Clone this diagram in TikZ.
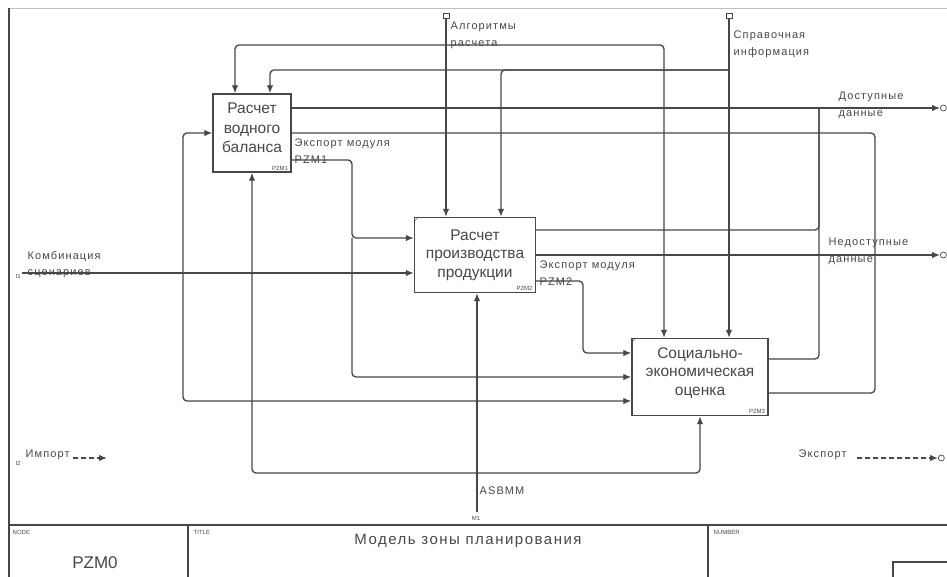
\documentclass[tikz,border=0pt]{standalone}
\usepackage{fontspec}
\setmainfont{Liberation Sans}
\newfontfamily\idef[LetterSpace=10]{Liberation Sans}
\usetikzlibrary{arrows.meta}

\begin{document}
\begin{tikzpicture}[x=1pt,y=-1pt,color=black!72,line width=1.35pt,
    func/.style={draw,line width=1.4pt,inner sep=0pt,align=center,font=\fontsize{15.5}{18.5}\selectfont},
    arr/.style={rounded corners=4pt,-{Latex[length=8pt,width=6.5pt]}},
    ln/.style={rounded corners=4pt},
    lbl/.style={font=\idef\fontsize{11}{17}\selectfont,align=left,inner sep=0pt,anchor=base west},
    tiny/.style={font=\fontsize{6}{7}\selectfont,inner sep=0pt},
    tunnel/.style={draw,line width=0.7pt,minimum width=6pt,minimum height=5pt,inner sep=0pt,anchor=south},
    ring/.style={draw,circle,line width=0.7pt,minimum size=6pt,inner sep=0pt,anchor=west}]
  \useasboundingbox (0,0) rectangle (947,577);
  % frame and footer
  \draw[black!25,line width=0.8pt] (9,8) -- (947,8);
  \draw[line width=1.4pt] (9,8) -- (9,577);
  \draw[line width=1.4pt] (9,525) -- (947,525);
  \draw[line width=1.4pt] (188,525) -- (188,577);
  \draw[line width=1.4pt] (708,525) -- (708,577);
  \draw[line width=1.4pt] (893,577) |- (947,562);
  \node[tiny,anchor=north west] (nodelbl) at (12,530) {NODE};
  \node[tiny,anchor=north west] (titlelbl) at (193,530) {TITLE};
  \node[tiny,anchor=north west] (numlbl) at (713,530) {NUMBER};
  \node[font=\fontsize{17}{20}\selectfont] (pzm0) at (95,563) {PZM0};
  \node[font=\idef\fontsize{15}{18}\selectfont] (title) at (468,541) {Модель зоны планирования};

  % function boxes
  \node[func,minimum width=78pt,minimum height=78pt,font=\fontsize{15.5}{19.5}\selectfont] (b1) at (252,133) {Расчет\\водного\\баланса\\[-9pt]};
  \node[func,minimum width=121pt,minimum height=75pt] (b2) at (475,255) {Расчет\\производства\\продукции};
  \node[func,minimum width=136pt,minimum height=77pt] (b3) at (700,377) {Социально-\\экономическая\\оценка\\[-7pt]};
  \node[tiny,anchor=south east] at ([xshift=-3pt,yshift=2pt]b1.south east) {PZM1};
  \node[tiny,anchor=south east] at ([xshift=-3pt,yshift=2pt]b2.south east) {PZM2};
  \node[tiny,anchor=south east] at ([xshift=-3pt,yshift=2pt]b3.south east) {PZM3};
  \draw[line width=0.5pt] ([yshift=-5pt]b2.north west) -- ([xshift=5pt]b2.north west);
  \draw[line width=0.5pt] ([yshift=-5pt]b3.north west) -- ([xshift=5pt]b3.north west);

  % controls
  \coordinate (alg) at (446,19);
  \coordinate (spr) at (729,19);
  \coordinate (jalg) at (446,45);
  \coordinate (jspr) at (729,70);
  \node[tunnel] at (alg) {};
  \node[tunnel] at (spr) {};
  \draw[arr] (alg) -- (alg |- b2.north);
  \draw[arr] (jalg) -| ([xshift=-17pt]b1.north);
  \draw[arr] (jalg) -| ([xshift=-36pt]b3.north);
  \draw[arr] (spr) -- (spr |- b3.north);
  \draw[arr] (jspr) -| ([xshift=18pt]b1.north);
  \draw[arr] (jspr) -| ([xshift=26pt]b2.north);
  \node[lbl] (alglbl) at (450,47) {Алгоритмы\\расчета};
  \node[lbl] (sprlbl) at (733,56) {Справочная\\информация};

  % inputs
  \coordinate (komb) at (22,273);
  \coordinate (jkomb) at (183,273);
  \draw[arr] (komb) -- ([yshift=-18pt]b2.west);
  \draw[arr] (jkomb) |- (b1.west);
  \draw[arr] (jkomb) |- ([yshift=-24pt]b3.west);
  \node[lbl] (komblbl) at (27,276) {Комбинация\\сценариев};
  \node[tiny,anchor=west] at (15,276) {I1};

  % module exports
  \coordinate (jpzm1) at (352,238);
  \coordinate (bend2) at (583,320);
  \draw[arr] ([yshift=-27pt]b1.east) -| (jpzm1) -- ([yshift=17pt]b2.west);
  \draw[arr] (jpzm1) |- (b3.west);
  \draw[arr] ([yshift=-26pt]b2.east) -| (bend2) |- ([yshift=24pt]b3.west);
  \node[lbl] (exp1lbl) at (294,164) {Экспорт модуля\\PZM1};
  \node[lbl] (exp2lbl) at (539,285) {Экспорт модуля\\PZM2};

  % outputs
  \coordinate (dost) at (940,108);
  \coordinate (nedost) at (940,255);
  \coordinate (jdost) at (819,108);
  \coordinate (jned) at (875,255);
  \draw[arr] ([yshift=25pt]b1.east) -- (dost);
  \draw[ln] ([yshift=25pt]b2.east) -| (jdost);
  \draw[ln] ([yshift=18pt]b3.east) -| (jdost);
  \draw[arr] (b2.east) -- (nedost);
  \draw[ln] (b1.east) -| (jned);
  \draw[ln] ([yshift=-16pt]b3.east) -| (jned);
  \node[ring] at (dost) {};
  \node[ring] at (nedost) {};
  \node[lbl] (dostlbl) at (838,117) {Доступные\\данные};
  \node[lbl] (nedostlbl) at (828,262) {Недоступные\\данные};

  % mechanisms
  \coordinate (asb) at (477,512);
  \coordinate (jasb) at (477,473);
  \draw[arr] (asb) -- (asb |- b2.south);
  \draw[arr] (jasb) -| (b1.south);
  \draw[arr] (jasb) -| (b3.south);
  \node[lbl] (asblbl) at (479,494) {ASBMM};
  \node[tiny] at (476,518) {M1};

  % import / export
  \coordinate (impend) at (107,458);
  \coordinate (expend) at (938,458);
  \node[lbl] (imp) at (25,457) {Импорт};
  \node[lbl] (exp) at (798,457) {Экспорт};
  \node[tiny,anchor=west] at (15,463) {I2};
  \draw[arr,dash pattern=on 5pt off 3pt] ([xshift=3pt]imp.east |- impend) -- (impend);
  \draw[arr,dash pattern=on 5pt off 3pt] ([xshift=10pt]exp.east |- expend) -- (expend);
  \node[ring] at (expend) {};
\end{tikzpicture}
\end{document}
